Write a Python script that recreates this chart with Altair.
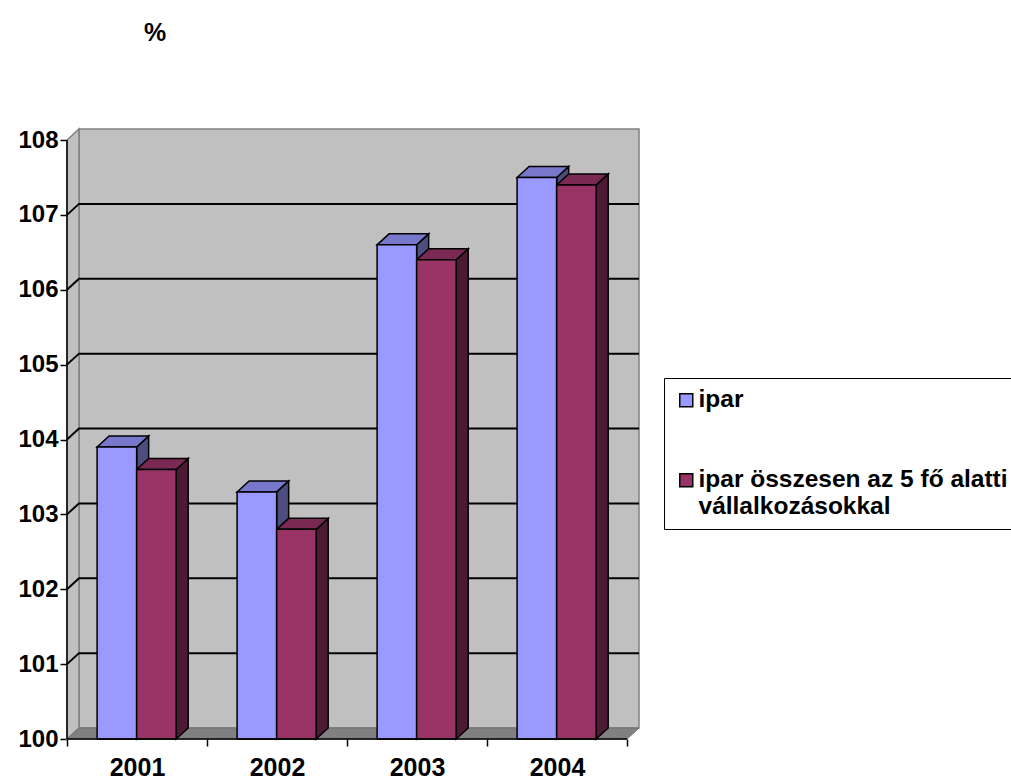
import altair as alt
import pandas as pd

# ---- data ---------------------------------------------------------------
years = ["2001", "2002", "2003", "2004"]
ipar = [103.9, 103.3, 106.6, 107.5]
ipar_osszes = [103.6, 102.8, 106.4, 107.4]
series = ["ipar", "ipar összesen az 5 fő alatti\nvállalkozásokkal"]
y_ticks = list(range(100, 109))
grid_values = y_ticks[1:-1]

front_colors = ["#9999FF", "#993366"]
top_colors = ["#7777CC", "#7A2952"]
side_colors = ["#4D4D80", "#4D1A33"]

# ---- layout (pixels) ------------------------------------------------------
CAT_PX = 140          # width of one year slot
UNIT_PX = 74.875      # height of one percentage point
DEPTH_X_PX = 12       # 3-D depth, horizontal shift
DEPTH_Y_PX = 11       # 3-D depth, vertical shift
GAP_FRAC = 0.215      # empty space before the first bar of a slot
BAR_FRAC = 0.2825     # width of one bar, as a fraction of the slot
LEFT, TOP = 67, 129
FONT = "Liberation Sans"

n = len(years)
dx = DEPTH_X_PX / CAT_PX
dy = DEPTH_Y_PX / UNIT_PX
y_min, y_max = y_ticks[0], y_ticks[-1]
x_max = n + dx
W = x_max * CAT_PX
H = (y_max + dy - y_min) * UNIT_PX

x_scale = alt.Scale(domain=[0, x_max], nice=False, zero=False)
y_scale = alt.Scale(domain=[y_min, y_max + dy], nice=False, zero=False)

year_expr = "[" + ",".join(f"'{y}'" for y in years) + "]"
x_axis = alt.Axis(
    values=[k / 2 for k in range(2 * n + 1)],
    labelExpr=f"datum.value % 1 == 0 ? '' : {year_expr}[floor(datum.value)]",
    tickOpacity={"condition": {"test": "datum.value % 1 == 0", "value": 1}, "value": 0},
    domain=False, grid=False, title=None,
    tickColor="black", tickSize=7, tickWidth=1.5,
    labelFont=FONT, labelFontSize=25, labelFontWeight="bold", labelColor="black",
    labelPadding=9, labelOverlap=False, labelFlush=False,
)
y_axis = alt.Axis(
    values=y_ticks, format="d", domain=False, grid=False, title=None,
    tickColor="black", tickSize=7, tickWidth=1.5,
    labelFont=FONT, labelFontSize=24, labelFontWeight="bold", labelColor="black",
    labelPadding=2, labelOverlap=False, labelFlush=False,
)

# every layer shares the same scales and axis definitions
X = alt.X("x:Q", scale=x_scale, axis=x_axis)
Y = alt.Y("y:Q", scale=y_scale, axis=y_axis)

# ---- bar faces ------------------------------------------------------------
fronts, tops, sides = [], [], []
for s, values in enumerate([ipar, ipar_osszes]):
    for i, v in enumerate(values):
        left = i + GAP_FRAC + s * BAR_FRAC
        right = left + BAR_FRAC
        face = f"{s}-{i}"
        fronts.append(dict(series=series[s], year=years[i], x=left, x2=right,
                           y=y_min, y2=v))
        for x, lo, hi in [(left, v, v), (left + dx, v, v + dy),
                          (right, v, v + dy), (right + dx, v + dy, v + dy)]:
            tops.append(dict(face=face, x=x, y=lo, y2=hi, fill=top_colors[s]))
        for x, lo, hi in [(right, y_min, v), (right + dx, y_min + dy, v + dy)]:
            sides.append(dict(face=face, x=x, y=lo, y2=hi, fill=side_colors[s]))

fronts_df = pd.DataFrame(fronts)
tops_df = pd.DataFrame(tops)
sides_df = pd.DataFrame(sides)

# ---- walls, floor, gridlines -------------------------------------------------
back_wall_df = pd.DataFrame([dict(x=dx, x2=n + dx, y=y_min + dy, y2=y_max + dy)])
side_wall_df = pd.DataFrame([dict(x=0, y=y_min, y2=y_max),
                             dict(x=dx, y=y_min + dy, y2=y_max + dy)])
floor_df = pd.DataFrame([dict(x=0, y=y_min, y2=y_min),
                         dict(x=dx, y=y_min, y2=y_min + dy),
                         dict(x=n, y=y_min, y2=y_min + dy),
                         dict(x=n + dx, y=y_min + dy, y2=y_min + dy)])
grid_rows = []
for g in grid_values:
    grid_rows += [dict(g=g, step=0, x=0, y=g),
                  dict(g=g, step=1, x=dx, y=g + dy),
                  dict(g=g, step=2, x=n + dx, y=g + dy)]
grid_df = pd.DataFrame(grid_rows)
axis_lines_df = pd.DataFrame([dict(x=0, x2=0, y=y_min, y2=y_max),
                              dict(x=0, x2=n, y=y_min, y2=y_min)])

back_wall = alt.Chart(back_wall_df).mark_rect(
    fill="#C0C0C0", stroke="#808080", strokeWidth=1.5
).encode(x=X, x2="x2:Q", y=Y, y2="y2:Q")

side_wall = alt.Chart(side_wall_df).mark_area(
    fill="#C0C0C0", stroke="#808080", strokeWidth=1.5
).encode(x=X, y=Y, y2="y2:Q")

floor = alt.Chart(floor_df).mark_area(
    fill="#808080", stroke="#707070", strokeWidth=1
).encode(x=X, y=Y, y2="y2:Q")

grid = alt.Chart(grid_df).mark_line(color="black", strokeWidth=2).encode(
    x=X, y=Y, detail="g:N", order="step:Q"
)

side_faces = alt.Chart(sides_df).mark_area(
    stroke="black", strokeWidth=1.5, strokeJoin="miter"
).encode(x=X, y=Y, y2="y2:Q", detail="face:N",
         color=alt.Color("fill:N", scale=None))

top_faces = alt.Chart(tops_df).mark_area(
    stroke="black", strokeWidth=1.5, strokeJoin="miter"
).encode(x=X, y=Y, y2="y2:Q", detail="face:N",
         color=alt.Color("fill:N", scale=None))

front_faces = alt.Chart(fronts_df).mark_rect(
    stroke="black", strokeWidth=1.5, strokeJoin="miter"
).encode(
    x=X, x2="x2:Q", y=Y, y2="y2:Q",
    color=alt.Color(
        "series:N",
        scale=alt.Scale(domain=series, range=front_colors),
        legend=alt.Legend(
            title=None, orient="none", legendX=664 - LEFT, legendY=378 - TOP,
            direction="vertical",
            strokeColor="black", fillColor="white", padding=10,
            symbolType="square", symbolSize=169, symbolStrokeColor="black",
            symbolStrokeWidth=1.5, symbolOpacity=1,
            labelExpr="split(datum.label, '\\n')",
            labelFont=FONT, labelFontSize=24.5, labelFontWeight="bold",
            labelColor="black", labelLimit=2000, labelOffset=0,
            labelBaseline="middle", rowPadding=55,
        ),
    ),
)

axis_lines = alt.Chart(axis_lines_df).mark_rule(color="black", strokeWidth=1.5).encode(
    x=X, x2="x2:Q", y=Y, y2="y2:Q"
)

chart = alt.layer(
    back_wall, side_wall, floor, grid, side_faces, top_faces, front_faces, axis_lines
).properties(
    width=W,
    height=H,
    title=alt.TitleParams(
        text="%", anchor="start", frame="group", dx=77, offset=88, dy=28,
        baseline="alphabetic", font=FONT, fontSize=25, fontWeight="bold",
        color="black",
    ),
    autosize=alt.AutoSizeParams(type="none"),
    padding={"left": LEFT, "top": TOP, "right": 1011 - LEFT - W, "bottom": 782 - TOP - H},
    background="white",
).configure_view(stroke=None)

chart.save("out.html", embed_options={"renderer": "svg", "actions": False})
